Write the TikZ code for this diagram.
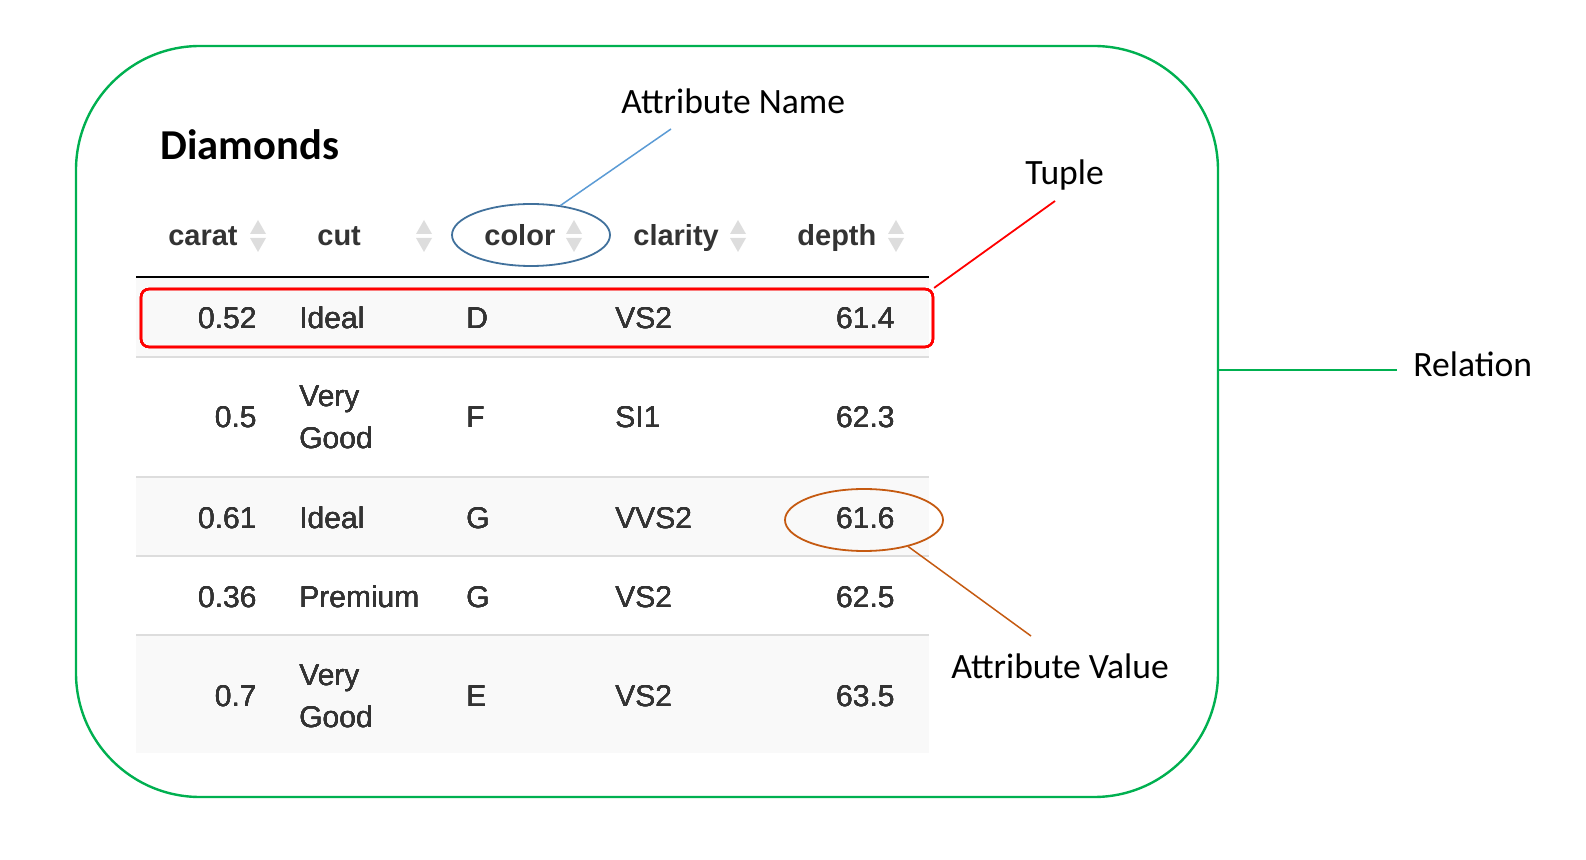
\documentclass[tikz,border=0pt]{standalone}
\usepackage{fontspec}
\setmainfont{Liberation Sans}
\newfontfamily\calfont{Carlito}
\usepackage{xcolor}
\usetikzlibrary{shapes.geometric,positioning}
\definecolor{relgreen}{RGB}{0,176,80}
\definecolor{nameblue}{RGB}{65,113,156}
\definecolor{nameline}{RGB}{91,155,213}
\definecolor{valorange}{RGB}{197,90,17}
\definecolor{rowgray}{RGB}{249,249,249}
\definecolor{rulegray}{RGB}{221,221,221}
\definecolor{cellgray}{RGB}{51,51,51}
\tikzset{
  note/.style={font=\calfont\fontsize{17.8}{21}\selectfont, inner sep=0pt, anchor=base west},
  title/.style={font=\calfont\bfseries\fontsize{21.3}{25}\selectfont, inner sep=0pt, anchor=base west},
  cell/.style={font=\fontsize{15}{21}\selectfont, text=cellgray, inner sep=0pt},
  head/.style={cell, font=\bfseries\fontsize{14.5}{18}\selectfont},
  ring/.style={ellipse, draw, line width=0.9pt, minimum width=79pt, minimum height=31pt, inner sep=0pt},
}
\newcommand\sortarrows[1]{%
  \fill[rulegray] (#1) ++(-8,-2) -- ++(16,0) -- ++(-8,-14) -- cycle;
  \fill[rulegray] (#1) ++(-8,2) -- ++(16,0) -- ++(-8,14) -- cycle;}

\begin{document}
\begin{tikzpicture}[x=0.5pt,y=-0.5pt]
    \useasboundingbox (0,0) rectangle (1586,860);
    \node[draw=relgreen,line width=1.2pt,rounded corners=62pt,minimum width=571pt,minimum height=375.5pt,inner sep=0pt] (relbox) at (647,421.5) {};
    % table
    \fill[rowgray] (136,278) rectangle (929,357);
    \fill[rowgray] (136,477) rectangle (929,556);
    \fill[rowgray] (136,635) rectangle (929,753);
    \foreach \y in {357,477,556,635}
        \draw[rulegray,line width=1pt] (136,\y) -- (929,\y);
    \draw[line width=1pt] (136,277) -- (929,277);
    \node[title] (title) at (160,160) {Diamonds};
    \node[head,anchor=base east] (hcarat) at (238,246) {carat};
    \node[head,anchor=base west] (hcut) at (317,246) {cut};
    \node[head,anchor=base west] (hcolor) at (484,246) {color};
    \node[head,anchor=base west] (hclarity) at (633,246) {clarity};
    \node[head,anchor=base west] (hdepth) at (797,246) {depth};
    \foreach \x in {258,424,574,738,896}
        \sortarrows{\x,236}
    \foreach \r/\b/\ca/\cu/\sh/\co/\cl/\de in {1/329/0.52/Ideal/0pt/D/VS2/61.4,
        2/428/0.5/{\vtop{\hbox{Very}\hbox{Good}}}/10.5pt/F/SI1/62.3,
        3/529/0.61/Ideal/0pt/G/VVS2/61.6,
        4/608/0.36/Premium/0pt/G/VS2/62.5,
        5/707/0.7/{\vtop{\hbox{Very}\hbox{Good}}}/10.5pt/E/VS2/63.5} {
        \node[cell,anchor=base east] (carat\r) at (257,\b) {\ca};
        \node[cell,anchor=base west,yshift=\sh] (cut\r) at (299,\b) {\cu};
        \node[cell,anchor=base west] (color\r) at (466,\b) {\co};
        \node[cell,anchor=base west] (clarity\r) at (615,\b) {\cl};
        \node[cell,anchor=base east] (depth\r) at (895,\b) {\de};
    }
    % marks
    \node[draw=red,line width=1.1pt,rounded corners=4pt,minimum width=396pt,minimum height=29pt,inner sep=0pt] (tuple) at (537,318) {};
    \node[ring,draw=nameblue] (colorring) at (531,235) {};
    \node[ring,draw=valorange] (valuering) at (864,520) {};
    % annotations
    \node[note] (attrname) at (621,114) {Attribute Name};
    \node[note] (tuplename) at (1025,185) {Tuple};
    \node[note] (relname) at (1413,377) {Relation};
    \node[note] (attrvalue) at (951,679) {Attribute Value};
    \coordinate (nametip) at (671,129);
    \coordinate (tupletip) at (1055,201);
    \coordinate (valuetip) at (1031,636);
    \coordinate (reltip) at (1397,370);
    \draw[nameline,line width=0.75pt] (colorring.45) -- (nametip);
    \draw[red,line width=0.9pt] (tuple.north east) -- (tupletip);
    \draw[valorange,line width=0.75pt] (valuering.-31) -- (valuetip);
    \draw[relgreen,line width=1.2pt] (relbox.east |- reltip) -- (reltip);
\end{tikzpicture}
\end{document}
